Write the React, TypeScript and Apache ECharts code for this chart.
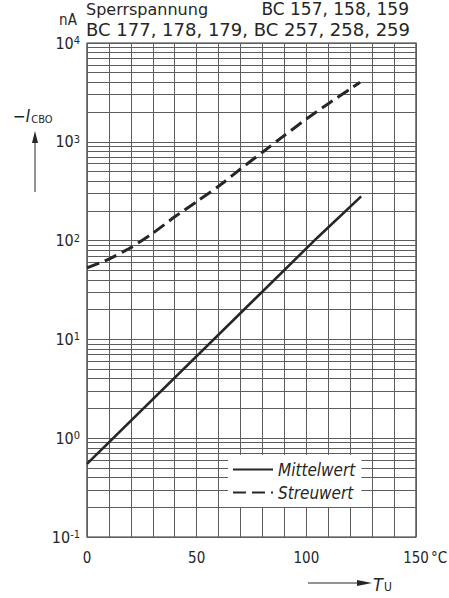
import React, { useEffect, useRef } from "react";
import * as echarts from "echarts";

// ---- data ----
const temperatures = [0, 10, 20, 30, 40, 50, 60, 70, 80, 90, 100, 110, 120, 124.5];
const streuwert = [53, 65, 85, 119, 174, 248, 355, 531, 785, 1160, 1700, 2430, 3430, 4000];
const mittelTemps = [0, 105, 125];
const mittelwert = [0.55, 107, 280];

const xLabelValues = [0, 50, 100, 150];
const yTickExponents = ["-1", "0", "1", "2", "3", "4"];
const minorMantissas = [2, 3, 4, 5, 6, 7, 8, 9];
const decades = [0.1, 1, 10, 100, 1000];

const seriesNames = ["Mittelwert", "Streuwert"];
const titleLine1Left = "Sperrspannung";
const titleLine1Right = "BC 157, 158, 159";
const titleLine2 = "BC 177, 178, 179, BC 257, 258, 259";
const yUnit = "nA";
const xUnit = "°C";

const NARROW = "'Liberation Sans Narrow', 'DejaVu Sans Condensed', 'Arial Narrow', sans-serif";
const WIDE = "'DejaVu Sans', sans-serif";
const INK = "#262626";
const GRID = "#5e5e5e";

export default function App() {
  const ref = useRef<HTMLDivElement>(null);

  useEffect(() => {
    if (!ref.current) return;
    const chart = echarts.init(ref.current, null, { renderer: "svg" });

    const minorLines: any[] = [];
    decades.forEach((d) => {
      minorMantissas.forEach((m) => minorLines.push({ yAxis: m * d }));
    });

    const option: any = {
      animation: false,
      backgroundColor: "#ffffff",
      grid: {
        left: 87,
        right: 33,
        top: 43,
        bottom: 61,
        show: true,
        borderColor: "#333",
        borderWidth: 1.2,
        backgroundColor: "transparent",
        outerBoundsMode: "none",
      },
      xAxis: {
        type: "value",
        min: 0,
        max: 150,
        interval: 10,
        axisLine: { show: false },
        axisTick: { show: false },
        splitLine: { show: true, lineStyle: { color: GRID, width: 1 } },
        axisLabel: {
          margin: 13,
          color: INK,
          fontFamily: NARROW,
          fontSize: 15,
          showMaxLabel: true,
          showMinLabel: true,
          formatter: (v: number) => (xLabelValues.indexOf(v) >= 0 ? String(v) : ""),
        },
      },
      yAxis: {
        type: "log",
        logBase: 10,
        min: 0.1,
        max: 10000,
        splitNumber: 5,
        axisLine: { show: false },
        axisTick: { show: false },
        splitLine: { show: true, lineStyle: { color: GRID, width: 1 } },
        axisLabel: {
          margin: 7,
          color: INK,
          showMaxLabel: true,
          showMinLabel: true,
          formatter: (v: number, i: number) => {
            const e = yTickExponents[i] !== undefined ? yTickExponents[i] : String(Math.round(Math.log10(v)));
            return "{b|10}{s|" + e + "}";
          },
          rich: {
            b: {
              fontFamily: NARROW,
              fontSize: 16,
              lineHeight: 16,
              padding: [3, 0, 0, 0],
              verticalAlign: "bottom",
              color: INK,
            },
            s: {
              fontFamily: NARROW,
              fontSize: 11,
              lineHeight: 11,
              verticalAlign: "top",
              color: INK,
            },
          },
        },
      },
      legend: {
        show: true,
        orient: "vertical",
        left: 228,
        top: 455,
        padding: [6, 6, 6, 4],
        itemGap: 6,
        itemWidth: 40,
        itemHeight: 12,
        backgroundColor: "#ffffff",
        data: seriesNames,
        itemStyle: { opacity: 0 },
        textStyle: {
          fontFamily: NARROW,
          fontStyle: "italic",
          fontSize: 17,
          color: INK,
        },
      },
      series: [
        {
          name: seriesNames[0],
          type: "line",
          symbol: "none",
          data: mittelTemps.map((t, i) => [t, mittelwert[i]]),
          lineStyle: { color: INK, width: 2.6, type: "solid" },
          itemStyle: { color: INK },
          z: 5,
          markLine: {
            silent: true,
            symbol: "none",
            label: { show: false },
            lineStyle: { color: GRID, width: 1, type: "solid" },
            data: minorLines,
            z: 1,
          },
        },
        {
          name: seriesNames[1],
          type: "line",
          symbol: "none",
          smooth: 0.2,
          data: temperatures.map((t, i) => [t, streuwert[i]]),
          lineStyle: { color: INK, width: 3, type: [13, 6] },
          itemStyle: { color: INK },
          z: 5,
        },
      ],
      graphic: [
        {
          type: "text",
          x: 86,
          y: 9,
          style: { text: titleLine1Left, font: "16px " + WIDE, fill: INK, align: "left", verticalAlign: "middle" },
        },
        {
          type: "text",
          x: 409,
          y: 9,
          style: { text: titleLine1Right, font: "17px " + WIDE, fill: INK, align: "right", verticalAlign: "middle" },
        },
        {
          type: "text",
          x: 86,
          y: 29,
          style: { text: titleLine2, font: "18px " + WIDE, fill: INK, align: "left", verticalAlign: "middle" },
        },
        {
          type: "text",
          x: 68,
          y: 20,
          style: { text: yUnit, font: "15px " + NARROW, fill: INK, align: "center", verticalAlign: "middle" },
        },
        {
          type: "text",
          x: 13,
          y: 116,
          style: {
            text: "{i|−I}{s|CBO}",
            align: "left",
            verticalAlign: "middle",
            rich: {
              i: { fontFamily: NARROW, fontStyle: "italic", fontSize: 17, lineHeight: 17, verticalAlign: "top", fill: INK },
              s: { fontFamily: NARROW, fontSize: 11, lineHeight: 11, padding: [8, 0, 0, 1], verticalAlign: "bottom", fill: INK },
            },
          },
        },
        {
          type: "line",
          shape: { x1: 35, y1: 192, x2: 35, y2: 141 },
          style: { stroke: INK, lineWidth: 1 },
        },
        {
          type: "polygon",
          shape: { points: [[32, 143], [35, 131], [38, 143]] },
          style: { fill: INK },
        },
        {
          type: "text",
          x: 431,
          y: 558,
          style: { text: xUnit, font: "15px " + NARROW, fill: INK, align: "left", verticalAlign: "middle" },
        },
        {
          type: "line",
          shape: { x1: 308, y1: 583, x2: 360, y2: 583 },
          style: { stroke: INK, lineWidth: 1 },
        },
        {
          type: "polygon",
          shape: { points: [[357, 580], [372, 583], [357, 586]] },
          style: { fill: INK },
        },
        {
          type: "text",
          x: 373,
          y: 584,
          style: {
            text: "{i|T}{s|U}",
            align: "left",
            verticalAlign: "middle",
            rich: {
              i: { fontFamily: NARROW, fontStyle: "italic", fontSize: 18, lineHeight: 18, verticalAlign: "top", fill: INK },
              s: { fontFamily: NARROW, fontSize: 12, lineHeight: 12, padding: [9, 0, 0, 1], verticalAlign: "bottom", fill: INK },
            },
          },
        },
      ],
    };

    chart.setOption(option);
    return () => chart.dispose();
  }, []);

  return (
    <div
      ref={ref}
      style={{ position: "fixed", left: 0, top: 0, width: 449, height: 598, background: "#fff" }}
    />
  );
}
